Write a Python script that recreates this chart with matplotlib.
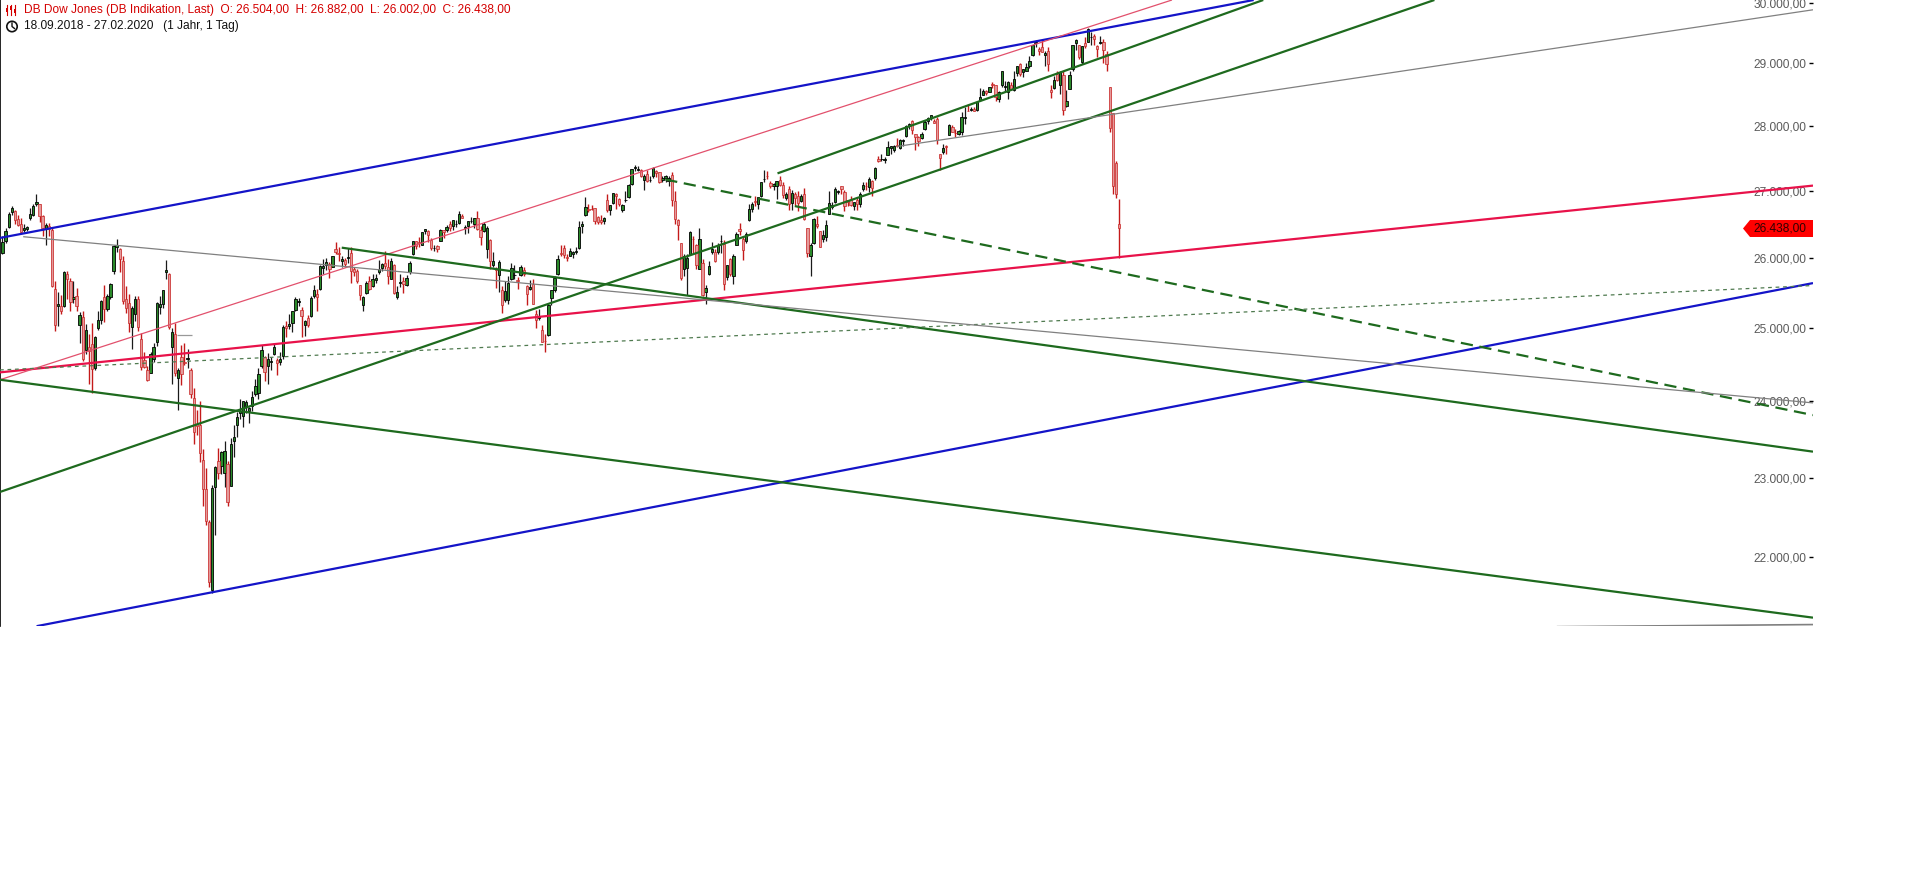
import matplotlib
matplotlib.use('Agg')
import matplotlib.pyplot as plt
import numpy as np
from matplotlib.patches import Polygon, Circle, Rectangle
from matplotlib.lines import Line2D
from matplotlib.transforms import ScaledTranslation, IdentityTransform, blended_transform_factory

plt.rcParams['font.family'] = ['Liberation Sans', 'DejaVu Sans']

# daily candles, DB Dow Jones indication, 18.09.2018 - 27.02.2020 (one list line per month)
opens = [
    26080, 26260, 26460, 26690, 26700, 26580, 26510, 26410, 26430,
    26600, 26640, 26800, 26800, 26620, 26430, 26470, 26420, 25560, 25320, 25310, 25320, 25770, 25680, 25410, 25460, 25050, 25160, 24700, 24740, 24780, 24450, 25000,
    25120, 25440, 25270, 25450, 25820, 26160, 26140, 25960, 25420, 25360, 25020, 25200, 25420, 24860, 24560, 24430, 24390, 24580, 24810, 25300, 25350,
    25800, 25780, 24740, 24920, 24320, 24600, 24530, 24580, 24420, 24050, 23700, 23690, 23230, 22860, 22440, 21600, 22880, 23210, 23150,
    23060, 23180, 22890, 23470, 23680, 23850, 23800, 23940, 23870, 23940, 24100, 24120, 24480, 24610, 24480, 24540, 24640, 24560, 24540, 24620, 25040,
    25030, 25070, 25260, 25380, 25260, 25050, 25150, 25170, 25460, 25480, 25560, 25860, 25900, 25920, 25880, 26130, 26080, 25960, 25970,
    26000, 26080, 25840, 25810, 25610, 25330, 25500, 25680, 25600, 25690, 25800, 25860, 25940, 25880, 25700, 25910, 25450, 25640, 25680, 25620, 25800,
    26070, 26250, 26240, 26200, 26400, 26400, 26270, 26150, 26180, 26250, 26410, 26410, 26500, 26470, 26510, 26520, 26630, 26440, 26470, 26550, 26500,
    26600, 26410, 26400, 26130, 26270, 25900, 25850, 25760, 25550, 25400, 25400, 25700, 25760, 25690, 25760, 25830, 25600, 25560, 25630, 25210, 25150, 24980,
    24830, 24910, 25430, 25550, 25770, 26080, 26150, 26020, 26040, 26070, 26100, 26150, 26470, 26640, 26730, 26730, 26740, 26610, 26560, 26550,
    26870, 26720, 26820, 26960, 26880, 26720, 26860, 26910, 27100, 27350, 27320, 27320, 27160, 27260, 27170, 27230, 27300, 27280, 27170, 27190, 27150, 27240,
    26850, 26560, 26220, 25850, 25860, 26060, 26290, 26200, 25850, 25940, 25520, 25780, 26090, 26100, 26100, 26250, 26210, 25730, 25990, 25750, 26200, 26430,
    26290, 26250, 26560, 26730, 26850, 26810, 26930, 27180, 27230, 27120, 27070, 27080, 27160, 27090, 26890, 27030, 26820, 26960, 26920, 26850,
    26960, 26450, 26040, 26220, 26510, 26400, 26290, 26310, 26650, 26760, 26830, 26990, 27070, 26990, 26860, 26870, 26770, 26860, 26800, 27030, 27080, 27060, 27150,
    27190, 27480, 27490, 27470, 27550, 27650, 27620, 27700, 27650, 27760, 27840, 28000, 28070, 27870, 27830, 27810, 27950, 28080, 28130, 28080,
    28110, 27560, 27600, 27690, 27860, 27990, 27890, 27880, 27900, 28120, 28240, 28250, 28270, 28250, 28410, 28490, 28550, 28540, 28670, 28650, 28420,
    28640, 28610, 28530, 28640, 28560, 28840, 28990, 28850, 28880, 28950, 29130, 29320, 29230, 29260, 29140, 29200, 28560, 28600, 28820, 28640, 28810,
    28320, 28580, 28900, 29330, 29290, 29020, 29320, 29350, 29420, 29440, 29280, 29320, 29350, 29150, 28610, 28200, 27420, 26504,
]
highs = [
    26320, 26440, 26680, 26770, 26710, 26640, 26590, 26510, 26480,
    26750, 26810, 26950, 26810, 26640, 26520, 26520, 26440, 25680, 25520, 25470, 25820, 25810, 25710, 25680, 25570, 25230, 25250, 25060, 24920, 25080, 24900, 25240,
    25400, 25610, 25480, 25650, 26190, 26280, 26150, 26040, 25600, 25480, 25320, 25460, 25460, 24940, 24680, 24480, 24680, 24800, 25370, 25460, 25540,
    25980, 25790, 25000, 25080, 24450, 24770, 24800, 24720, 24460, 24180, 23880, 24000, 23370, 23130, 22460, 22900, 23150, 23380, 23340,
    23470, 23210, 23520, 23690, 23860, 24040, 24010, 24020, 23920, 24140, 24300, 24460, 24770, 24620, 24660, 24600, 24800, 24590, 24680, 25050, 25110,
    25210, 25240, 25440, 25430, 25300, 25120, 25190, 25460, 25620, 25560, 25900, 25990, 26010, 25950, 26040, 26240, 26160, 26030, 26000,
    26150, 26160, 25880, 25840, 25620, 25460, 25670, 25740, 25780, 25770, 25970, 25940, 26110, 25990, 26000, 25920, 25600, 25780, 25730, 25760, 25960,
    26260, 26260, 26310, 26390, 26430, 26410, 26300, 26200, 26200, 26430, 26420, 26490, 26550, 26570, 26560, 26700, 26660, 26490, 26550, 26610, 26600,
    26700, 26480, 26540, 26480, 26280, 26090, 25870, 25970, 25600, 25680, 25740, 25940, 25900, 25730, 25900, 25880, 25610, 25690, 25700, 25260, 25270, 25050,
    24930, 25340, 25540, 25750, 26050, 26200, 26200, 26060, 26150, 26110, 26160, 26550, 26550, 26910, 26800, 26790, 26750, 26630, 26640, 26610,
    26960, 26790, 26970, 26970, 26890, 26800, 27000, 27100, 27340, 27400, 27380, 27340, 27250, 27320, 27230, 27360, 27320, 27290, 27230, 27240, 27220, 27290,
    27000, 26580, 26220, 26060, 26060, 26400, 26320, 26210, 26440, 25990, 25610, 25960, 26240, 26130, 26220, 26340, 26270, 25910, 26000, 26060, 26390, 26520,
    26320, 26380, 26800, 26840, 26920, 26910, 27140, 27310, 27300, 27150, 27120, 27150, 27220, 27130, 26990, 27080, 27020, 26990, 27000, 26960,
    27050, 26450, 26220, 26590, 26630, 26400, 26420, 26560, 27000, 26830, 27060, 27020, 27080, 27010, 26870, 26920, 26840, 26900, 26980, 27130, 27130, 27210, 27160,
    27360, 27530, 27570, 27520, 27770, 27690, 27700, 27810, 27800, 27800, 28010, 28050, 28090, 27870, 27840, 27900, 28090, 28140, 28170, 28110,
    28140, 27570, 27720, 27700, 28030, 28010, 27950, 27930, 28220, 28290, 28340, 28290, 28300, 28380, 28600, 28580, 28560, 28620, 28700, 28650, 28550,
    28870, 28710, 28710, 28690, 28870, 28960, 29010, 28910, 29010, 29120, 29300, 29370, 29270, 29370, 29190, 29270, 28640, 28790, 28880, 28880, 28880,
    28560, 28880, 29300, 29400, 29300, 29280, 29420, 29570, 29510, 29470, 29300, 29440, 29390, 29200, 28620, 28200, 27450, 26882,
]
lows = [
    26065, 26230, 26440, 26640, 26500, 26470, 26370, 26380, 26400,
    26570, 26620, 26780, 26530, 26320, 26200, 26330, 25590, 24970, 25030, 25200, 25300, 25420, 25240, 25360, 25240, 24800, 24550, 24640, 24240, 24120, 24420, 24980,
    25060, 25090, 25240, 25420, 25780, 26100, 25800, 25340, 25220, 24950, 24720, 25110, 24960, 24420, 24460, 24270, 24380, 24530, 24760, 25210, 25290,
    25700, 24990, 24240, 24340, 23880, 24220, 24500, 24450, 24050, 23430, 23560, 23200, 22640, 22400, 21640, 21560, 22270, 22980, 23040,
    22880, 22640, 22890, 23270, 23530, 23770, 23660, 23840, 23710, 23870, 24070, 24030, 24460, 24270, 24230, 24430, 24630, 24360, 24490, 24580, 24880,
    24990, 24950, 25240, 25320, 24880, 24890, 25020, 25160, 25430, 25250, 25550, 25770, 25830, 25720, 25870, 26060, 25960, 25880, 25870,
    25940, 25640, 25740, 25650, 25400, 25250, 25480, 25540, 25590, 25640, 25770, 25810, 25840, 25630, 25700, 25490, 25420, 25590, 25500, 25600, 25780,
    26050, 26140, 26170, 26190, 26350, 26240, 26120, 26110, 26090, 26250, 26300, 26380, 26400, 26420, 26460, 26510, 26590, 26350, 26370, 26520, 26440,
    26420, 26190, 26380, 26010, 25850, 25870, 25570, 25510, 25220, 25380, 25350, 25690, 25700, 25560, 25750, 25750, 25330, 25540, 25340, 25000, 25120, 24810,
    24680, 24900, 25330, 25520, 25760, 26040, 26000, 25960, 26030, 26000, 26070, 26140, 26370, 26620, 26680, 26710, 26510, 26500, 26500, 26510,
    26690, 26640, 26800, 26730, 26780, 26690, 26830, 26900, 27090, 27300, 27300, 27210, 27020, 27140, 27130, 27200, 27210, 27120, 27140, 27140, 27080, 26770,
    26510, 26270, 25690, 25750, 25470, 26050, 26060, 25850, 25840, 25460, 25340, 25760, 26070, 25950, 26070, 26080, 25550, 25690, 25740, 25630, 26190, 26340,
    25980, 26230, 26550, 26690, 26780, 26730, 26910, 27140, 27180, 27040, 27020, 26880, 27080, 26900, 26870, 26720, 26710, 26790, 26700, 26840,
    26560, 26020, 25740, 26210, 26440, 26160, 26240, 26250, 26650, 26730, 26820, 26960, 26960, 26700, 26770, 26780, 26710, 26720, 26760, 27000, 27020, 26980, 26920,
    27160, 27440, 27460, 27430, 27540, 27560, 27600, 27670, 27640, 27690, 27830, 27950, 27880, 27620, 27680, 27790, 27940, 28030, 28090, 28040,
    27720, 27320, 27570, 27560, 27850, 27900, 27830, 27850, 27860, 28030, 28230, 28230, 28230, 28230, 28390, 28480, 28490, 28530, 28600, 28400, 28380,
    28610, 28540, 28420, 28560, 28550, 28790, 28790, 28780, 28880, 28920, 29110, 29270, 29130, 29180, 28950, 28880, 28440, 28590, 28710, 28500, 28170,
    28300, 28580, 28880, 29220, 29060, 28990, 29240, 29340, 29300, 29300, 29100, 29310, 29000, 28870, 27900, 26960, 26900, 26002,
]
closes = [
    26246, 26406, 26657, 26744, 26562, 26492, 26385, 26440, 26458,
    26651, 26774, 26828, 26627, 26447, 26487, 26431, 25599, 25053, 25340, 25251, 25798, 25706, 25380, 25444, 25317, 25191, 24583, 24985, 24689, 24443, 24875, 25116,
    25381, 25271, 25462, 25636, 26181, 26191, 25989, 25387, 25286, 25081, 25290, 25413, 25018, 24466, 24465, 24286, 24640, 24749, 25366, 25339, 25538,
    25826, 25027, 24947, 24389, 24423, 24371, 24528, 24597, 24101, 23592, 23675, 23324, 22859, 22445, 21700, 22870, 23139, 23062, 23327,
    23346, 22686, 23433, 23531, 23787, 23879, 24001, 23996, 23910, 24065, 24207, 24370, 24706, 24405, 24575, 24553, 24737, 24528, 24580, 25014, 25000,
    25064, 25239, 25411, 25390, 25169, 25106, 25053, 25426, 25543, 25439, 25883, 25891, 25954, 25850, 26031, 26092, 26057, 25986, 25916,
    26026, 25820, 25806, 25673, 25473, 25450, 25651, 25555, 25702, 25710, 25849, 25914, 25887, 25746, 25963, 25502, 25517, 25658, 25626, 25717, 25929,
    26258, 26180, 26219, 26385, 26425, 26341, 26151, 26158, 26143, 26412, 26385, 26453, 26450, 26560, 26512, 26656, 26597, 26462, 26543, 26554, 26593,
    26430, 26308, 26505, 26438, 25965, 25968, 25828, 25942, 25325, 25532, 25648, 25863, 25764, 25680, 25877, 25776, 25490, 25586, 25348, 25126, 25170, 24815,
    24820, 25332, 25540, 25720, 25984, 26062, 26049, 26004, 26107, 26090, 26112, 26466, 26504, 26753, 26720, 26727, 26548, 26537, 26527, 26600,
    26718, 26787, 26966, 26923, 26806, 26784, 26860, 27088, 27332, 27359, 27336, 27220, 27223, 27154, 27172, 27350, 27270, 27141, 27193, 27222, 27199, 26864,
    26583, 26485, 25718, 26030, 26008, 26379, 26287, 25897, 26280, 25479, 25579, 25886, 26136, 25962, 26202, 26253, 25629, 25899, 25778, 26036, 26362, 26403,
    26118, 26355, 26728, 26797, 26836, 26909, 27137, 27182, 27220, 27076, 27111, 27147, 27095, 26935, 26950, 26808, 26971, 26891, 26820, 26917,
    26573, 26079, 26202, 26573, 26478, 26165, 26347, 26497, 26817, 26787, 27025, 27001, 27026, 26770, 26828, 26788, 26834, 26806, 26958, 27091, 27071, 27186, 27046,
    27347, 27462, 27493, 27492, 27675, 27681, 27691, 27691, 27784, 27782, 28005, 28036, 27934, 27822, 27767, 27876, 28066, 28122, 28164, 28051,
    27783, 27503, 27650, 27678, 28015, 27910, 27882, 27912, 28132, 28135, 28236, 28267, 28240, 28377, 28455, 28551, 28515, 28621, 28645, 28462, 28538,
    28869, 28635, 28703, 28584, 28746, 28957, 28824, 28908, 28940, 29030, 29298, 29348, 29196, 29186, 29160, 28990, 28536, 28723, 28734, 28860, 28256,
    28400, 28808, 29291, 29379, 29103, 29276, 29277, 29551, 29424, 29398, 29232, 29348, 29219, 28992, 27961, 27081, 26957, 26438,
]

# trendlines: (candle index, price) anchor pairs
blueUpper = [(-0.81, 26299), (405.7, 30042)]
blueLower = [(11.06, 21166), (587.06, 25643)]
redMain = [(-0.81, 24394), (587.06, 27080)]
redThin = [(-0.81, 24294), (379.2, 30042)]
greenUp = [(-0.81, 22816), (464.3, 30042)]
greenUpShort = [(251.3, 27266), (408.8, 30042)]
greenDown = [(110.0, 26156), (587.06, 23336)]
greenDownLow = [(-0.81, 24294), (587.06, 21267)]
greenDashed = [(214.9, 27173), (587.06, 23818)]
greenDotted = [(-0.81, 24427), (587.06, 25608)]
grayDown = [(6.71, 26317), (587.06, 23981)]
grayUp = [(290.0, 27679), (587.06, 29878)]
grayBottom = [(504.0, 21160), (587.06, 21185)]
grayStub = [(56.6, 24912), (61.3, 24912)]

yTicks = [22000, 23000, 24000, 25000, 26000, 27000, 28000, 29000, 30000]
header1 = 'DB Dow Jones (DB Indikation, Last)  O: 26.504,00  H: 26.882,00  L: 26.002,00  C: 26.438,00'
header2 = '18.09.2018 - 27.02.2020   (1 Jahr, 1 Tag)'


def germanNumber(v):
    s = '{:,.2f}'.format(v)
    return s.replace(',', '#').replace('.', ',').replace('#', '.')


W, H = 1914, 869
fig = plt.figure(figsize=(W / 100, H / 100), dpi=100)
ax = fig.add_axes([0, 1 - 626 / H, 1813 / W, 626 / H])
ax.set_yscale('log')

o = np.array(opens, dtype=float)
h = np.array(highs, dtype=float)
l = np.array(lows, dtype=float)
c = np.array(closes, dtype=float)
x = np.arange(len(c))
up = c >= o
bodyLow = np.minimum(o, c)
bodyHigh = np.maximum(o, c)

ax.vlines(x[up], l[up], h[up], color='#1a1a1a', lw=0.9, zorder=2)
ax.vlines(x[~up], l[~up], h[~up], color='#c41a1a', lw=1.0, zorder=2)
ax.bar(x[up], bodyHigh[up] - bodyLow[up], bottom=bodyLow[up], width=0.75,
       color='#2a8a2a', edgecolor='black', linewidth=0.6, zorder=3)
ax.bar(x[~up], bodyHigh[~up] - bodyLow[~up], bottom=bodyLow[~up], width=0.75,
       color='#e49a9a', edgecolor='#c82424', linewidth=0.5, zorder=3)


def drawLine(pts, **kw):
    ax.plot([p[0] for p in pts], [p[1] for p in pts], solid_capstyle='butt', zorder=4, **kw)


blue = '#1414c8'
green = '#1e6a1e'
drawLine(blueUpper, color=blue, lw=1.6)
drawLine(blueLower, color=blue, lw=1.6)
drawLine(redMain, color='#e8124a', lw=1.6)
drawLine(redThin, color='#e2506c', lw=0.9)
drawLine(greenUp, color=green, lw=1.6)
drawLine(greenUpShort, color=green, lw=1.6)
drawLine(greenDown, color=green, lw=1.6)
drawLine(greenDownLow, color=green, lw=1.6)
drawLine(greenDashed, color=green, lw=1.6, dashes=(5.5, 3))
drawLine(greenDotted, color='#4f7a4f', lw=0.9, dashes=(3, 3))
drawLine(grayDown, color='#808080', lw=0.9)
drawLine(grayUp, color='#808080', lw=0.9)
drawLine(grayBottom, color='#808080', lw=1.2)
drawLine(grayStub, color='#999999', lw=0.9)

ax.set_xlim(-0.81, 587.06)
ax.set_ylim(21168, 30042)

ax.set_xticks([])
ax.yaxis.tick_right()
ax.set_yticks(yTicks)
ax.set_yticklabels([germanNumber(v) for v in yTicks])
ax.yaxis.set_minor_locator(matplotlib.ticker.NullLocator())
ax.tick_params(axis='y', which='major', direction='in', length=3, width=1, color='black',
               labelsize=8.6, labelcolor='#5a5a5a', pad=-5)
plt.setp(ax.yaxis.get_majorticklabels(), ha='right')
for side in ['top', 'right', 'bottom']:
    ax.spines[side].set_visible(False)
ax.spines['left'].set_color('black')
ax.spines['left'].set_linewidth(1.2)

# last price marker on the right edge
base = blended_transform_factory(ax.transAxes, ax.transData)
boxTrans = fig.dpi_scale_trans + ScaledTranslation(1, closes[-1], base)
ax.add_patch(Polygon([(0, -0.085), (-0.63, -0.085), (-0.70, 0), (-0.63, 0.085), (0, 0.085)],
                     closed=True, transform=boxTrans, facecolor='#ff0000', edgecolor='none',
                     zorder=6, clip_on=False))
ax.text(-0.07, 0, germanNumber(closes[-1]), transform=boxTrans, ha='right', va='center',
        fontsize=8.6, color='#300000', zorder=7)

# header
px = IdentityTransform()
fig.text(24, H - 10.5, header1, transform=px, color='#d40000', fontsize=8.6, va='center')
fig.text(24, H - 26.5, header2, transform=px, color='#111111', fontsize=8.6, va='center')
for cx, top, bot, bt, bb in [(7, 5, 15, 8, 12), (11, 5, 15, 6, 10), (15, 5, 15, 9, 13)]:
    fig.add_artist(Line2D([cx, cx], [H - top, H - bot], transform=px, color='#d40000', lw=0.8))
    fig.add_artist(Rectangle((cx - 1.2, H - bb), 2.4, bb - bt, transform=px,
                             facecolor='#d40000', edgecolor='none'))
fig.add_artist(Circle((12, H - 26.5), 5.2, transform=px, fill=False, edgecolor='#111111', lw=1.2))
fig.add_artist(Line2D([12, 12, 14.5], [H - 23, H - 26.5, H - 28.5], transform=px,
                      color='#111111', lw=1.0))

fig.savefig('out.png', dpi=100)
